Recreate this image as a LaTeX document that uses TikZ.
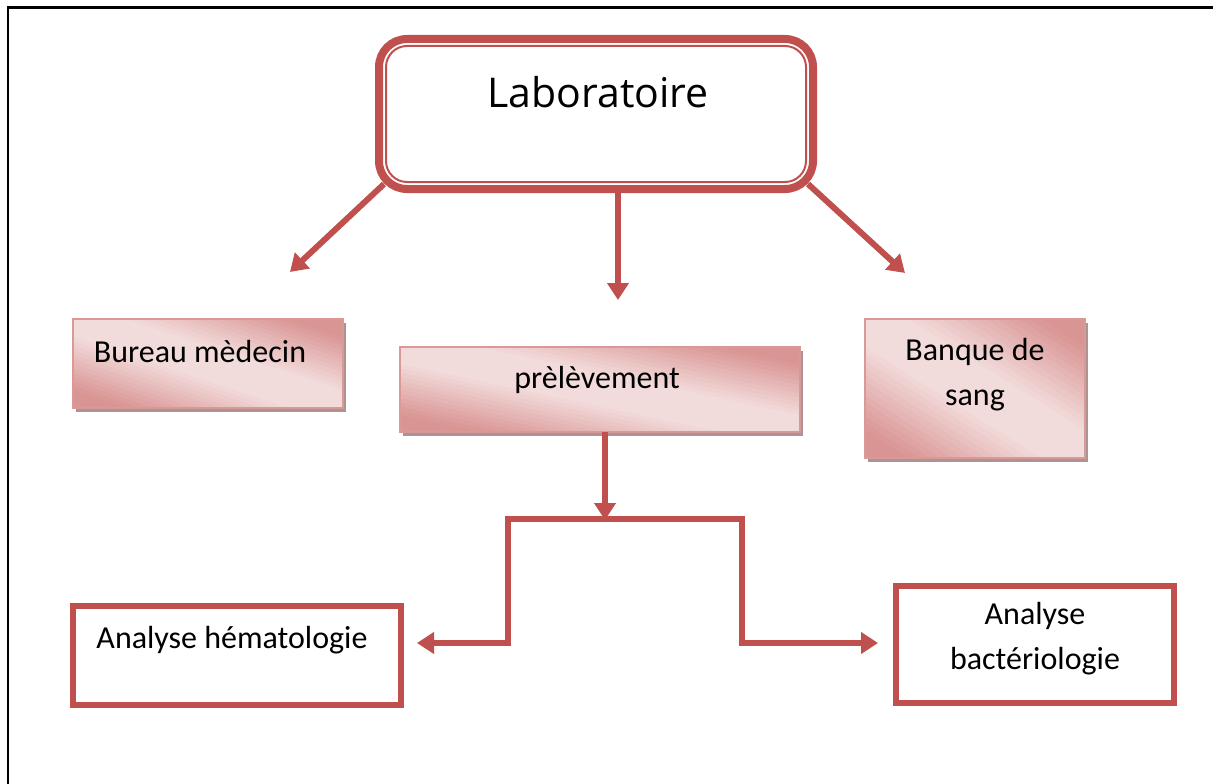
\documentclass[tikz,border=0pt]{standalone}
\usepackage{fontspec}
\setmainfont{Carlito}
\newfontfamily\titlefont{Open Sans}
\usetikzlibrary{arrows.meta,shadows,calc,backgrounds}

\definecolor{accent}{HTML}{C0504D}
\definecolor{pinkdark}{HTML}{D99594}
\definecolor{pinklight}{HTML}{F2DCDB}
\definecolor{pinkedge}{HTML}{DA9897}
\definecolor{shadowgrey}{HTML}{AC9494}

% diagonal gradient inside node #1 of size #2 x #3:
% light along the top-left/bottom-right diagonal,
% darker towards the top-right and bottom-left corners
\newcommand\gradfill[3]{%
  \begin{scope}
    \clip (#1.north west) rectangle (#1.south east);
    \begin{scope}[shift={(#1.north west)}, x=#2pt, y=-#3pt]
      \foreach \i in {0,...,45} {
        \pgfmathsetmacro\ca{-1.15+\i*0.05}
        \pgfmathsetmacro\cb{\ca+0.06}
        \pgfmathsetmacro\cm{abs(\ca+0.025)}
        \pgfmathsetmacro\mx{max(0,min(1,(\cm-0.18)/0.62))*100}
        \fill[pinkdark!\mx!pinklight]
          (\ca-0.1,-0.1) -- (\cb-0.1,-0.1) -- (\cb+1.1,1.1) -- (\ca+1.1,1.1) -- cycle;
      }
    \end{scope}
  \end{scope}
  \draw[pinkedge, line width=2pt] (#1.north west) rectangle (#1.south east);}

\tikzset{
  arrowline/.style={draw=accent, line width=6pt,
    -{Triangle[width=21pt,length=17pt]}},
  plainline/.style={draw=accent, line width=6pt},
  pinkbox/.style={inner sep=0pt, outer sep=0pt, fill=white,
    drop shadow={shadow xshift=3pt, shadow yshift=-4pt,
      fill=shadowgrey, opacity=1}},
  redbox/.style={draw=accent, line width=6pt, fill=white, inner sep=0pt},
  label/.style={font=\fontsize{32}{45}\selectfont, align=center, inner sep=0pt}
}

\begin{document}
\begin{tikzpicture}[x=1pt,y=-1pt]
\useasboundingbox (0,0) rectangle (1213,784);

% page frame (top and left edges)
\draw[line width=3pt] (1213,7.5) -- (8,7.5);
\draw[line width=2pt] (8,6) -- (8,784);

% head box with its inner outline
\node[draw=accent, line width=8pt, rounded corners=28pt, fill=white,
      minimum width=434pt, minimum height=150pt, inner sep=0pt] (lab) at (596,114) {};
\draw[accent, line width=2pt, rounded corners=21pt]
  ([shift={(11,11)}]lab.north west) rectangle ([shift={(-11,-11)}]lab.south east);
\node[font=\titlefont\fontsize{41}{44}\selectfont, inner sep=0pt] (labtxt) at (598,92) {Laboratoire};

% services
\node[pinkbox, minimum width=270pt, minimum height=89pt] (bureau) at (208,363.5) {};
\gradfill{bureau}{270}{89}
\node[label] (bureautxt) at (200,352) {Bureau mèdecin};

\node[pinkbox, minimum width=400pt, minimum height=85pt] (prel) at (600,389.5) {};
\gradfill{prel}{400}{85}
\node[label] (preltxt) at (597,380) {prèlèvement};

\node[pinkbox, minimum width=220pt, minimum height=139pt] (banque) at (975,388.5) {};
\gradfill{banque}{220}{139}
\node[label] (banquetxt) at (975,375) {Banque de\\sang};

% analyses
\node[redbox, minimum width=328pt, minimum height=99pt] (hema) at (237,655.5) {};
\node[label] (hematxt) at (232,640) {Analyse hématologie};

\node[redbox, minimum width=278pt, minimum height=117pt] (bact) at (1035,644.5) {};
\node[label] (bacttxt) at (1035,638.5) {Analyse\\bactériologie};

% arrow ends
\coordinate (tipL) at (290,272);
\coordinate (tipC) at (618,300);
\coordinate (tipR) at (905,273);
\coordinate (split) at (605,520);
\coordinate (brl) at (508,643);
\coordinate (brr) at (742,643);

\begin{scope}[on background layer]
  \draw[arrowline] ([shift={(9,-9)}]lab.south west) -- (tipL);
  \draw[arrowline] ([xshift=22pt]lab.south) -- (tipC);
  \draw[arrowline] ([shift={(-9,-9)}]lab.south east) -- (tipR);
\end{scope}

% split below the sampling box
\draw[arrowline] ([xshift=5pt]prel.south) -- (split);
\draw[plainline] ($(split)+(0,-1)$) -| (brl);
\draw[plainline] ($(split)+(0,-1)$) -| (brr);
\draw[arrowline] ($(brl)+(0,-3)$) -- (brl) -- ($(hema.east |- brl)+(13,0)$);
\draw[arrowline] ($(brr)+(0,-3)$) -- (brr) -- ($(bact.west |- brr)+(-15,0)$);
\end{tikzpicture}
\end{document}
